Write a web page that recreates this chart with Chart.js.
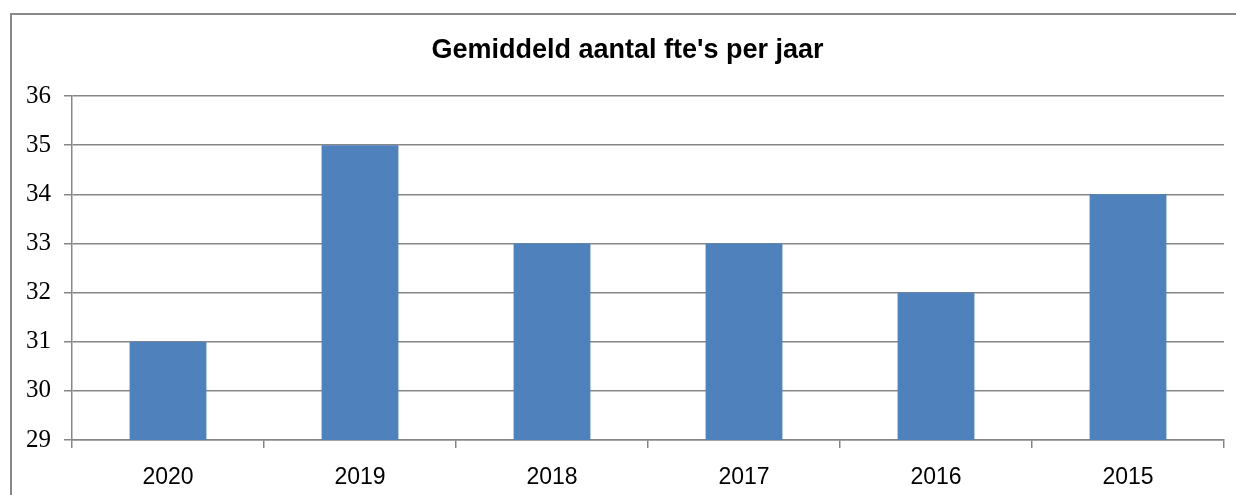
<!DOCTYPE html>
<html>
<head>
<meta charset="utf-8">
<script src="https://cdn.jsdelivr.net/npm/chart.js@4"></script>
<style>
  html, body { margin: 0; padding: 0; background: #fff; }
  #wrap { position: relative; width: 1236px; height: 495px; overflow: hidden; }
  #frame { position: absolute; left: 10px; top: 13px; width: 1300px; height: 600px;
           border-left: 2px solid #898989; border-top: 2px solid #898989; box-sizing: border-box; }
  #c { position: absolute; left: 0; top: 0; }
  #title { position: absolute; left: 0; top: 33px; width: 1255px; text-align: center;
           font-family: 'Liberation Sans', sans-serif; font-weight: bold; font-size: 27px;
           line-height: 32px; color: #000; white-space: nowrap; }
</style>
</head>
<body>
<div id="wrap">
  <div id="frame"></div>
  <canvas id="c" width="1236" height="495"></canvas>
  <div id="title"></div>
</div>
<script>
const titleText = "Gemiddeld aantal fte's per jaar";
const categories = ["2020", "2019", "2018", "2017", "2016", "2015"];
const fteValues = [31, 35, 33, 33, 32, 34];
const yMin = 29;
const yMax = 36;
const yStep = 1;

const gridColor = '#878787';
document.getElementById('title').textContent = titleText;

new Chart(document.getElementById('c'), {
  type: 'bar',
  data: {
    labels: categories,
    datasets: [{
      data: fteValues,
      backgroundColor: '#4f81bd',
      borderWidth: 0,
      barPercentage: 0.4,
      categoryPercentage: 1.0
    }]
  },
  options: {
    responsive: false,
    animation: false,
    devicePixelRatio: 1,
    layout: { padding: { left: 0, right: 12, top: 96, bottom: 0 } },
    plugins: {
      legend: { display: false },
      tooltip: { enabled: false },
      title: { display: false }
    },
    scales: {
      x: {
        offset: true,
        grid: { display: true, offset: true, drawOnChartArea: false, drawTicks: true,
                tickLength: 8, color: gridColor, lineWidth: 1.5 },
        border: { display: true, color: gridColor, width: 1.5 },
        ticks: { color: '#000', font: { family: 'Liberation Sans', size: 23 }, padding: 16 },
        afterFit: (s) => { s.height = 55; }
      },
      y: {
        min: yMin, max: yMax,
        ticks: { stepSize: yStep, color: '#000', font: { family: 'Liberation Serif', size: 25 }, padding: 13 },
        grid: { color: gridColor, lineWidth: 1.5, tickLength: 8 },
        border: { display: true, color: gridColor, width: 1.5 },
        afterFit: (s) => { s.width = 72; }
      }
    }
  }
});
</script>
</body>
</html>
